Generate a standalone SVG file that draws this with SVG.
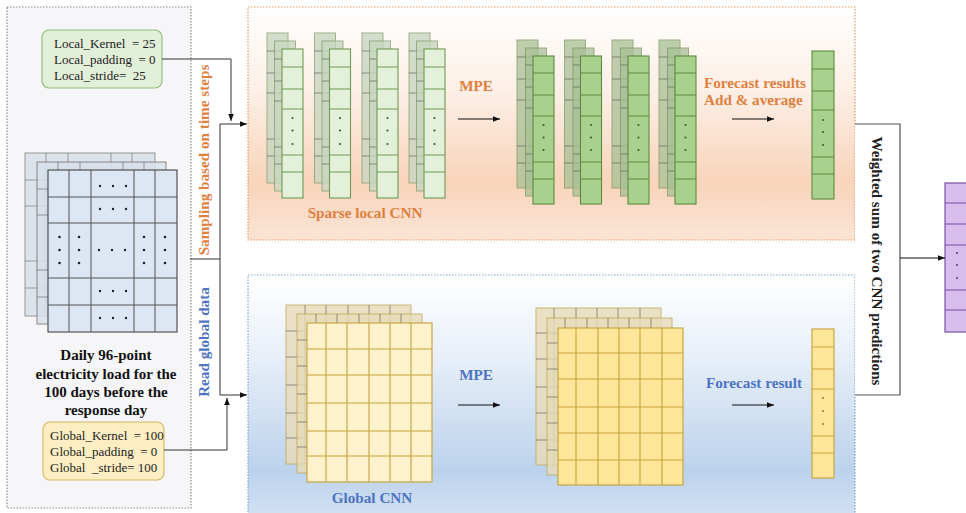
<svg xmlns="http://www.w3.org/2000/svg" width="966" height="513" viewBox="0 0 966 513">
<style>
.t{font-family:"Liberation Serif","Times New Roman",serif;fill:#222;white-space:pre}
.p{font-size:13px}
.b{font-weight:bold}
.or{fill:#e0803f;font-weight:bold;font-size:15.2px}
.bl{fill:#4f74c2;font-weight:bold;font-size:15.2px}
.cap{font-size:15px;font-weight:bold;fill:#111}
.c{fill:none;stroke:#333;stroke-width:1}
.ca{fill:none;stroke:#111;stroke-width:1.2}
.gl{stroke:#555;stroke-width:1;fill:none}
.lg{fill:#e3f1da;stroke:#6f9a55;stroke-width:1.1}
.lgb{fill:#c9d6c0;stroke:#86a173;stroke-width:1;opacity:.8}
.dg{fill:#a9d18e;stroke:#5b8a3f;stroke-width:1.1}
.dgb{fill:#a8c096;stroke:#78955f;stroke-width:1;opacity:.75}
.ly{fill:#fff2cc;stroke:#c5a13a;stroke-width:1.1}
.dy{fill:#ffe699;stroke:#c5a13a;stroke-width:1.1}
.yb{fill:#e8dcb8;stroke:#c2a856;stroke-width:1;opacity:.8}
.gd{fill:#3d5a2e}
.yd{fill:#9a7b20}
</style>
<defs>
<marker id="ah" viewBox="0 0 10 10" refX="10" refY="5" markerWidth="7" markerHeight="7" orient="auto" markerUnits="userSpaceOnUse"><path d="M0,1 L10,5 L0,9 z" fill="#111"/></marker>
<linearGradient id="og" x1="0" y1="0" x2="0" y2="1">
<stop offset="0" stop-color="#ffffff"/><stop offset="0.35" stop-color="#fdf0e7"/><stop offset="0.75" stop-color="#f8d4bb"/><stop offset="1" stop-color="#fbe4d5"/>
</linearGradient>
<linearGradient id="bg" x1="0" y1="0" x2="0" y2="1">
<stop offset="0" stop-color="#ffffff"/><stop offset="0.35" stop-color="#e6eef8"/><stop offset="0.8" stop-color="#bcd2ec"/><stop offset="1" stop-color="#d3e2f3"/>
</linearGradient>
<g id="lstack">
<rect class="lgb" x="-15" y="-16" width="21" height="150"/>
<path class="gl" stroke="#8aa37a" d="M-15,2H6M-15,24H6M-15,44H6M-15,90H6M-15,107H6" opacity=".6"/>
<rect class="lgb" x="-7.5" y="-8" width="21" height="150"/>
<path class="gl" stroke="#8aa37a" d="M-7.5,10H13.5M-7.5,32H13.5M-7.5,52H13.5M-7.5,98H13.5M-7.5,115H13.5" opacity=".6"/>
<rect class="lg" x="0" y="0" width="21" height="149"/>
<path class="lg" fill="none" d="M0,18H21M0,40H21M0,60H21M0,106H21M0,123H21"/>
<circle class="gd" cx="10.5" cy="69" r="1.1"/><circle class="gd" cx="10.5" cy="81.5" r="1.1"/><circle class="gd" cx="10.5" cy="95" r="1.1"/>
</g>
<g id="dstack">
<rect class="dgb" x="-16" y="-16" width="21" height="148"/>
<path class="gl" stroke="#6f8c58" d="M-16,1H5M-16,23H5M-16,44H5M-16,90H5M-16,107H5" opacity=".6"/>
<rect class="dgb" x="-7.5" y="-8" width="21" height="148"/>
<path class="gl" stroke="#6f8c58" d="M-7.5,9H13.5M-7.5,31H13.5M-7.5,52H13.5M-7.5,98H13.5M-7.5,115H13.5" opacity=".6"/>
<rect class="dg" x="0" y="0" width="21" height="148"/>
<path class="dg" fill="none" d="M0,17H21M0,39H21M0,60H21M0,106H21M0,123H21"/>
<circle class="gd" cx="10.5" cy="69" r="1.1"/><circle class="gd" cx="10.5" cy="81.5" r="1.1"/><circle class="gd" cx="10.5" cy="94" r="1.1"/>
</g>
</defs>

<rect width="966" height="513" fill="#ffffff"/>

<g id="input-panel">
<rect x="7" y="7" width="184" height="501" fill="#f6f6f8" stroke="#8a8a8a" stroke-width="1.2" stroke-dasharray="1.5 1.5"/>
</g>

<g id="orange-panel">
<rect x="248" y="7" width="607" height="233" fill="url(#og)" stroke="#e39a62" stroke-width="1.2" stroke-dasharray="1.5 1.5"/>
</g>
<g id="blue-panel">
<rect x="248" y="275" width="607" height="245" fill="url(#bg)" stroke="#7fa5d3" stroke-width="1.2" stroke-dasharray="1.5 1.5"/>
</g>

<g id="input-grid">
<rect x="25" y="153" width="130" height="163" fill="#d5dde6" stroke="#777" stroke-width="1" opacity=".75"/>
<path class="gl" opacity=".5" d="M46,153V316M68,153V316M111,153V316M132,153V316M25,180H155M25,206H155M25,261H155M25,288H155"/>
<rect x="37" y="162" width="129" height="162" fill="#d8e1eb" stroke="#777" stroke-width="1" opacity=".85"/>
<path class="gl" opacity=".55" d="M58,162V324M80,162V324M123,162V324M144,162V324M37,189H166M37,215H166M37,270H166M37,297H166"/>
<rect x="48" y="170" width="129" height="162" fill="#dce7f3" stroke="#444" stroke-width="1.1"/>
<path class="gl" stroke="#444" d="M69,170V332M91,170V332M134,170V332M155,170V332M48,197H177M48,223H177M48,278H177M48,305H177"/>
<g fill="#222">
<circle cx="100" cy="186" r="1.2"/><circle cx="113" cy="186" r="1.2"/><circle cx="126" cy="186" r="1.2"/>
<circle cx="100" cy="209" r="1.2"/><circle cx="113" cy="209" r="1.2"/><circle cx="126" cy="209" r="1.2"/>
<circle cx="99" cy="250" r="1.2"/><circle cx="112" cy="250" r="1.2"/><circle cx="125" cy="250" r="1.2"/>
<circle cx="100" cy="291" r="1.2"/><circle cx="113" cy="291" r="1.2"/><circle cx="126" cy="291" r="1.2"/>
<circle cx="100" cy="318" r="1.2"/><circle cx="113" cy="318" r="1.2"/><circle cx="126" cy="318" r="1.2"/>
<circle cx="59.5" cy="237" r="1.3"/><circle cx="59.5" cy="250" r="1.3"/><circle cx="59.5" cy="263" r="1.3"/>
<circle cx="79" cy="237" r="1.3"/><circle cx="79" cy="250" r="1.3"/><circle cx="79" cy="263" r="1.3"/>
<circle cx="144" cy="237" r="1.3"/><circle cx="144" cy="250" r="1.3"/><circle cx="144" cy="263" r="1.3"/>
<circle cx="165" cy="237" r="1.3"/><circle cx="165" cy="250" r="1.3"/><circle cx="165" cy="263" r="1.3"/>
</g>
<text class="t cap" text-anchor="middle"><tspan x="106" y="360">Daily 96-point</tspan><tspan x="106" y="379">electricity load for the</tspan><tspan x="106" y="397">100 days before the</tspan><tspan x="106" y="415">response day</tspan></text>
</g>

<g id="local-params">
<rect x="42" y="30" width="120" height="58" rx="7" fill="#e2efd9" stroke="#8fb977" stroke-width="1.1"/>
<text class="t p"><tspan x="54" y="48">Local_Kernel  = 25</tspan><tspan x="54" y="64">Local_padding  = 0</tspan><tspan x="54" y="80">Local_stride=  25</tspan></text>
</g>

<g id="global-params">
<rect x="43" y="422" width="121" height="58" rx="7" fill="#fdefc3" stroke="#d6b55c" stroke-width="1.1"/>
<text class="t p"><tspan x="50" y="440">Global_Kernel  = 100</tspan><tspan x="50" y="456">Global_padding  = 0</tspan><tspan x="50" y="472">Global  _stride= 100</tspan></text>
</g>

<g id="label-sampling"><text class="t or" transform="translate(209,160) rotate(-90)" text-anchor="middle">Sampling based on time steps</text></g>
<g id="label-read"><text class="t bl" transform="translate(209,342) rotate(-90)" text-anchor="middle">Read global data</text></g>

<g id="sparse-local-cnn">
<use href="#lstack" x="282" y="49"/>
<use href="#lstack" x="329.5" y="49"/>
<use href="#lstack" x="377" y="49"/>
<use href="#lstack" x="424" y="49"/>
<text class="t or" x="365" y="218" text-anchor="middle">Sparse local CNN</text>
</g>
<g id="mpe-local"><text class="t or" x="476" y="91" text-anchor="middle">MPE</text></g>
<g id="local-mpe-maps">
<use href="#dstack" x="533" y="56"/>
<use href="#dstack" x="580.5" y="56"/>
<use href="#dstack" x="628" y="56"/>
<use href="#dstack" x="675" y="56"/>
</g>
<g id="label-add-average"><text class="t or"><tspan x="704" y="88">Forecast results</tspan><tspan x="704" y="105">Add &amp; average</tspan></text></g>
<g id="local-output">
<rect class="dg" x="812" y="51" width="22" height="148"/>
<path class="dg" fill="none" d="M812,69H834M812,91H834M812,110H834M812,157H834M812,174H834"/>
<circle class="gd" cx="823" cy="120" r="1.1"/><circle class="gd" cx="823" cy="132" r="1.1"/><circle class="gd" cx="823" cy="145" r="1.1"/>
</g>

<g id="global-cnn">
<rect class="yb" x="286" y="305" width="125" height="159"/>
<path class="gl" stroke="#b89a45" opacity=".6" d="M305,305V464M326,305V464M348,305V464M369,305V464M390,305V464M286,331H411M286,357H411M286,385H411M286,413H411M286,438H411"/>
<rect class="yb" x="297" y="314" width="125" height="159" fill="#efe1b5"/>
<path class="gl" stroke="#b89a45" opacity=".6" d="M316,314V473M337,314V473M359,314V473M380,314V473M401,314V473M297,340H422M297,366H422M297,394H422M297,422H422M297,447H422"/>
<rect class="ly" x="307" y="323" width="125" height="159"/>
<path class="ly" fill="none" d="M326,323V482M347,323V482M369,323V482M390,323V482M411,323V482M307,349H432M307,375H432M307,403H432M307,431H432M307,456H432"/>
<text class="t bl" x="372" y="503" text-anchor="middle">Global CNN</text>
</g>
<g id="mpe-global"><text class="t bl" x="476" y="380" text-anchor="middle">MPE</text></g>
<g id="global-mpe-maps">
<rect class="yb" x="536" y="308" width="125" height="157"/>
<path class="gl" stroke="#b89a45" opacity=".6" d="M554,308V465M576,308V465M597,308V465M618,308V465M640,308V465M536,333H661M536,359H661M536,387H661M536,413H661M536,440H661"/>
<rect class="yb" x="547" y="318" width="125" height="157" fill="#f2dc9e"/>
<path class="gl" stroke="#b89a45" opacity=".6" d="M565,318V475M587,318V475M608,318V475M629,318V475M651,318V475M547,343H672M547,369H672M547,397H672M547,423H672M547,450H672"/>
<rect class="dy" x="558" y="328" width="125" height="157"/>
<path class="dy" fill="none" d="M576,328V485M598,328V485M619,328V485M640,328V485M662,328V485M558,353H683M558,379H683M558,407H683M558,433H683M558,460H683"/>
</g>
<g id="label-forecast-result"><text class="t bl" x="706" y="388">Forecast result</text></g>
<g id="global-output">
<rect class="dy" x="812" y="329" width="22" height="149"/>
<path class="dy" fill="none" d="M812,347H834M812,369H834M812,389H834M812,436H834M812,453H834"/>
<circle class="yd" cx="823" cy="398" r="1.1"/><circle class="yd" cx="823" cy="411" r="1.1"/><circle class="yd" cx="823" cy="424" r="1.1"/>
</g>

<g id="weighted-sum">
<path d="M855,124H900V395H855" fill="#ffffff" stroke="#555" stroke-width="1.2"/>
<text class="t b" font-size="15.2" fill="#111" transform="translate(877,261) rotate(90)" text-anchor="middle" dominant-baseline="central">Weighted sum of two CNN predictions</text>
</g>

<g id="final-output">
<rect x="945" y="183" width="26" height="149" fill="#d9bdec" stroke="#7b4fa3" stroke-width="1.2"/>
<path d="M945,203H971M945,224H971M945,245H971M945,290H971M945,310H971" stroke="#7b4fa3" stroke-width="1.1"/>
<g fill="#5a3a7a"><circle cx="957" cy="253" r="1"/><circle cx="957" cy="265" r="1"/><circle cx="957" cy="278" r="1"/></g>
</g>

<g id="connectors">
<path class="c" d="M190,259H220M220,124V395"/>
<path class="c" d="M220,124H247" marker-end="url(#ah)"/>
<path class="c" d="M220,395H247" marker-end="url(#ah)"/>
<path class="c" d="M162,59H231V121" marker-end="url(#ah)"/>
<path class="c" d="M164,450H227V398" marker-end="url(#ah)"/>
<path class="ca" d="M458,119H500" marker-end="url(#ah)"/>
<path class="ca" d="M732,119H774" marker-end="url(#ah)"/>
<path class="ca" d="M458,405H500" marker-end="url(#ah)"/>
<path class="ca" d="M732,405H774" marker-end="url(#ah)"/>
<path class="ca" d="M900,258H945" marker-end="url(#ah)"/>
</g>
</svg>
